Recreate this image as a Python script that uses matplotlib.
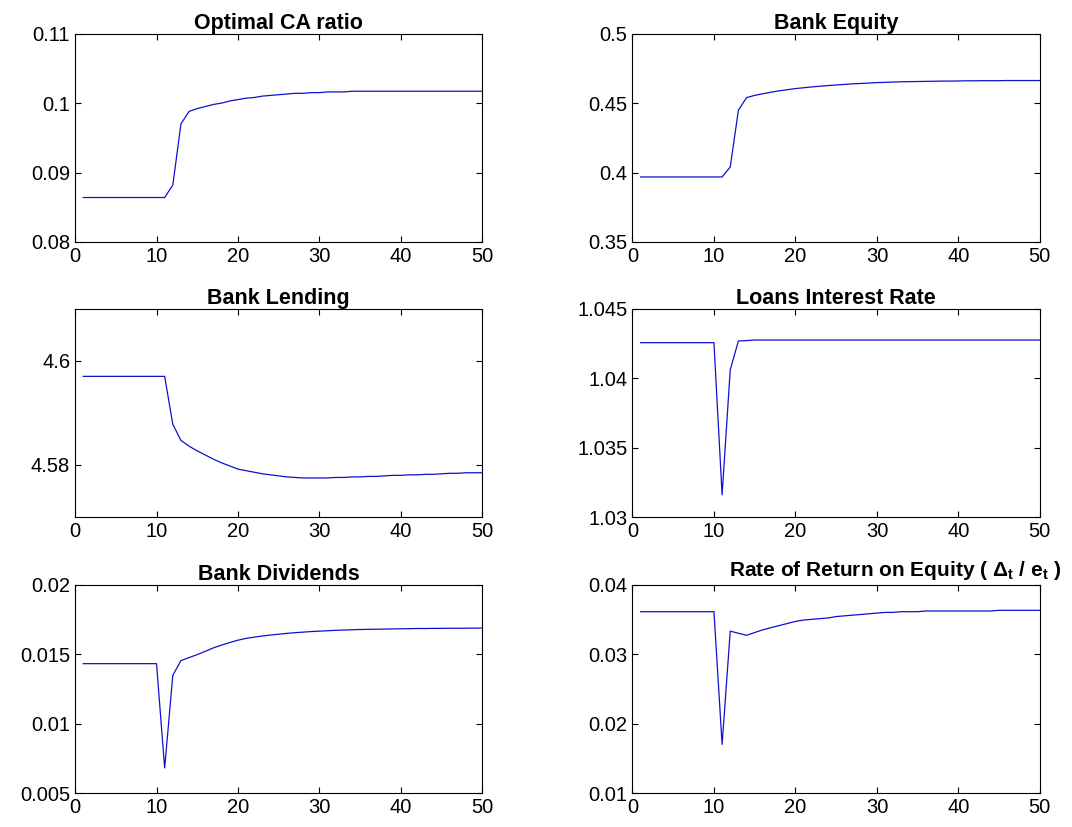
import matplotlib
matplotlib.use("Agg")
import matplotlib.pyplot as plt
from matplotlib.ticker import FormatStrFormatter

plt.rcParams['font.family'] = ['Liberation Sans', 'DejaVu Sans']
plt.rcParams['mathtext.fontset'] = 'custom'
plt.rcParams['mathtext.rm'] = 'Liberation Sans'
plt.rcParams['mathtext.bf'] = 'Liberation Sans:bold'

t = list(range(1, 51))

ca_ratio = [0.0864] * 11 + [
    0.0882, 0.0970, 0.0988, 0.0992, 0.0995, 0.0998, 0.1000, 0.1003, 0.1005,
    0.1007, 0.1008, 0.1010, 0.1011, 0.1012, 0.1013, 0.1014, 0.1014, 0.1015,
    0.1015, 0.1016, 0.1016, 0.1016, 0.1017, 0.1017, 0.1017, 0.1017, 0.1017,
    0.1017, 0.1017, 0.1017, 0.1017, 0.1017, 0.1017, 0.1017, 0.1017, 0.1017,
    0.1017, 0.1017, 0.1017]

equity = [0.3968] * 11 + [
    0.4040, 0.4448, 0.4539, 0.4555, 0.4567, 0.4578, 0.4588, 0.4596, 0.4604,
    0.4610, 0.4616, 0.4621, 0.4626, 0.4630, 0.4634, 0.4638, 0.4641, 0.4644,
    0.4647, 0.4649, 0.4651, 0.4653, 0.4654, 0.4655, 0.4656, 0.4657, 0.4658,
    0.4658, 0.4659, 0.4660, 0.4660, 0.4661, 0.4661, 0.4661, 0.4662, 0.4662,
    0.4662, 0.4662, 0.4662]

lending = [4.5970] * 11 + [
    4.5878, 4.5847, 4.5836, 4.5827, 4.5819, 4.5811, 4.5804, 4.5798, 4.5792,
    4.5789, 4.5786, 4.5783, 4.5781, 4.5779, 4.5777, 4.5776, 4.5775, 4.5775,
    4.5775, 4.5775, 4.5776, 4.5776, 4.5777, 4.5777, 4.5778, 4.5778, 4.5779,
    4.5780, 4.5780, 4.5781, 4.5781, 4.5782, 4.5782, 4.5783, 4.5784, 4.5784,
    4.5785, 4.5785, 4.5785]

loan_rate = [1.04255] * 10 + [1.0316, 1.0406, 1.04267, 1.04270] + [1.04274] * 36

dividends = [0.01431] * 10 + [
    0.0068, 0.01347, 0.01453, 0.01475, 0.01496, 0.01520, 0.01545, 0.01565,
    0.01583, 0.01600, 0.01613, 0.01622, 0.01630, 0.01637, 0.01643, 0.01649,
    0.01654, 0.01658, 0.01662, 0.01665, 0.01668, 0.01671, 0.01673, 0.01675,
    0.01677, 0.01678, 0.01679, 0.01680, 0.01681, 0.01682, 0.01683, 0.01684,
    0.01684, 0.01685, 0.01685, 0.01686, 0.01686, 0.01686, 0.01687, 0.01687]

roe = [0.0361] * 10 + [
    0.0170, 0.0333, 0.0330, 0.0327, 0.0331, 0.0335, 0.0338, 0.0341, 0.0344,
    0.0347, 0.0349, 0.0350, 0.0351, 0.0352, 0.0354, 0.0355, 0.0356, 0.0357,
    0.0358, 0.0359, 0.0360, 0.0360, 0.0361, 0.0361, 0.0361, 0.0362, 0.0362,
    0.0362, 0.0362, 0.0362, 0.0362, 0.0362, 0.0362, 0.0362, 0.0363, 0.0363,
    0.0363, 0.0363, 0.0363, 0.0363]

titles = ['Optimal CA ratio', 'Bank Equity', 'Bank Lending',
          'Loans Interest Rate', 'Bank Dividends',
          r'Rate of Return on Equity ( Δ$_\mathbf{t}$ / e$_\mathbf{t}$ )']
series = [ca_ratio, equity, lending, loan_rate, dividends, roe]
ylims = [(0.08, 0.11), (0.35, 0.5), (4.57, 4.61),
         (1.03, 1.045), (0.005, 0.02), (0.01, 0.04)]
yticks = [[0.08, 0.09, 0.1, 0.11], [0.35, 0.4, 0.45, 0.5], [4.58, 4.6],
          [1.03, 1.035, 1.04, 1.045], [0.005, 0.01, 0.015, 0.02],
          [0.01, 0.02, 0.03, 0.04]]

fig = plt.figure(figsize=(10.72, 8.27), dpi=100)
lefts = [0.070, 0.590]
bottoms = [0.7074, 0.3748, 0.0411]
w, h = 0.380, 0.2520

for i in range(6):
    ax = fig.add_axes([lefts[i % 2], bottoms[i // 2], w, h])
    ax.plot(t, series[i], color='#1010d0', lw=0.9)
    ax.set_xlim(0, 50)
    ax.set_ylim(*ylims[i])
    ax.set_xticks([0, 10, 20, 30, 40, 50])
    ax.set_yticks(yticks[i])
    ax.yaxis.set_major_formatter(FormatStrFormatter('%g'))
    ax.tick_params(direction='in', top=True, right=True, length=4,
                   labelsize=14.5, width=0.8)
    for s in ax.spines.values():
        s.set_linewidth(0.8)
    if i == 5:
        ax.set_title(titles[i], fontsize=15, fontweight='bold', pad=6, x=0.645)
    else:
        ax.set_title(titles[i], fontsize=15.5, fontweight='bold', pad=3)

fig.savefig('out.png', dpi=100)
